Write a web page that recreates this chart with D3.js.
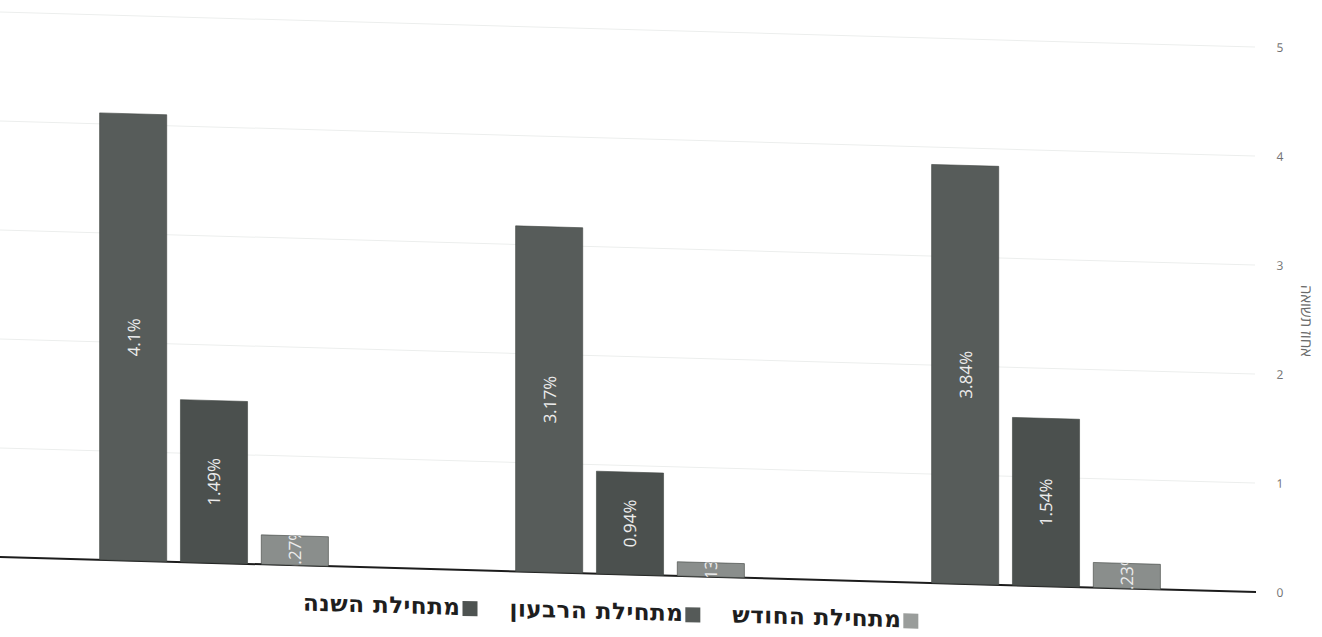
<!DOCTYPE html>
<html>
<head>
    <meta charset="utf-8">
    <title>תשואות</title>
    <style>
        body { margin: 0; background: #fff; }
        svg { display: block; }
        .grid line { stroke: #eceeed; stroke-width: 1px; }
        .baseline { stroke: #1c1c1c; stroke-width: 2px; }
        .ticks text { font-family: "Open Sans", sans-serif; font-size: 12px; fill: #6f6f6f; }
        .bar-label { font-family: "Open Sans", sans-serif; font-size: 17px; fill: #ececec; }
        .legend text { font-family: "DejaVu Sans", sans-serif; font-weight: bold; font-size: 23px; letter-spacing: 0.5px; fill: #1e1e1e; }
        .axis-title { font-family: "Open Sans", sans-serif; font-size: 15px; fill: #6a6a6a; }
    </style>
</head>
<body>
<svg id="chart" width="1322" height="637"></svg>
<script src="https://d3js.org/d3.v7.min.js"></script>
<script>
    // data
    const categories = ["מסלול א", "מסלול ב", "מסלול ג"];
    const series = ["מתחילת השנה", "מתחילת הרבעון", "מתחילת החודש"];
    const yearValues = [4.1, 3.17, 3.84];
    const quarterValues = [1.49, 0.94, 1.54];
    const monthValues = [0.27, 0.13, 0.23];
    const yTicks = [0, 1, 2, 3, 4, 5];
    const axisTitle = "אחוז תשואה";

    const seriesValues = [yearValues, quarterValues, monthValues];
    const colors = ["#575c5a", "#4b504e", "#8a8e8c"];
    const swatchColors = ["#4e5351", "#555a58", "#9a9d9b"];

    const svg = d3.select('#chart');
    // the scan is slightly sheared, everything drifts down to the right
    const root = svg.append('g').attr('transform', 'skewY(1.6)');

    const y = d3.scaleLinear().domain([0, 5]).range([557, 12]);
    const x0 = d3.scaleBand().domain(categories).range([6, 1254])
        .paddingInner(0.45).paddingOuter(0.225);
    const x1 = d3.scaleBand().domain(series).range([0, x0.bandwidth()])
        .paddingInner(0.17);

    // gridlines
    root.append('g').attr('class', 'grid')
        .selectAll('line').data(yTicks.filter(d => d > 0)).join('line')
        .attr('x1', 0).attr('x2', 1255)
        .attr('y1', d => y(d)).attr('y2', d => y(d));

    root.append('line').attr('class', 'baseline')
        .attr('x1', 0).attr('x2', 1256)
        .attr('y1', y(0)).attr('y2', y(0));

    // right axis labels
    root.append('g').attr('class', 'ticks')
        .selectAll('text').data(yTicks).join('text')
        .attr('x', 1280)
        .attr('y', d => y(d))
        .attr('dy', '0.35em')
        .attr('text-anchor', 'middle')
        .text(d => d);

    root.append('text').attr('class', 'axis-title')
        .attr('transform', `translate(1307,${(y(0) + y(5)) / 2}) rotate(90)`)
        .attr('text-anchor', 'middle')
        .attr('dominant-baseline', 'central')
        .text(axisTitle);

    // bars
    const rows = [];
    categories.forEach((c, i) => {
        series.forEach((s, j) => rows.push({ cat: c, ser: s, si: j, value: seriesValues[j][i], id: `b${i}${j}` }));
    });
    const bx = d => x0(d.cat) + x1(d.ser);

    const defs = svg.append('defs');
    defs.selectAll('clipPath').data(rows).join('clipPath')
        .attr('id', d => 'clip-' + d.id)
        .append('rect')
        .attr('x', bx)
        .attr('y', d => y(d.value))
        .attr('width', x1.bandwidth())
        .attr('height', d => y(0) - y(d.value));

    const bars = root.append('g').selectAll('g').data(rows).join('g');
    bars.append('rect')
        .attr('x', bx)
        .attr('y', d => y(d.value))
        .attr('width', x1.bandwidth())
        .attr('height', d => y(0) - y(d.value))
        .attr('fill', d => colors[d.si])
        .attr('stroke', '#3e4240').attr('stroke-width', 0.6);

    // labels are clipped to their bar, like the small month bars in the print
    bars.append('g')
        .attr('clip-path', d => `url(#clip-${d.id})`)
        .append('text').attr('class', 'bar-label')
        .attr('text-anchor', 'middle')
        .attr('dominant-baseline', 'central')
        .attr('transform', d => `translate(${bx(d) + x1.bandwidth() / 2},${(y(0) + y(d.value)) / 2}) rotate(-90)`)
        .text(d => d.value + '%');

    // legend, laid out left to right: year, quarter, month
    const legend = root.append('g').attr('class', 'legend');
    let cursor = 303;
    series.forEach((s, i) => {
        const t = legend.append('text').attr('x', cursor).attr('y', 602).text(s);
        const w = t.node().getComputedTextLength();
        legend.append('rect')
            .attr('x', cursor + w + 2).attr('y', 588)
            .attr('width', 15).attr('height', 15)
            .attr('fill', swatchColors[i]);
        cursor += w + 2 + 15 + 32;
    });
</script>
</body>
</html>
